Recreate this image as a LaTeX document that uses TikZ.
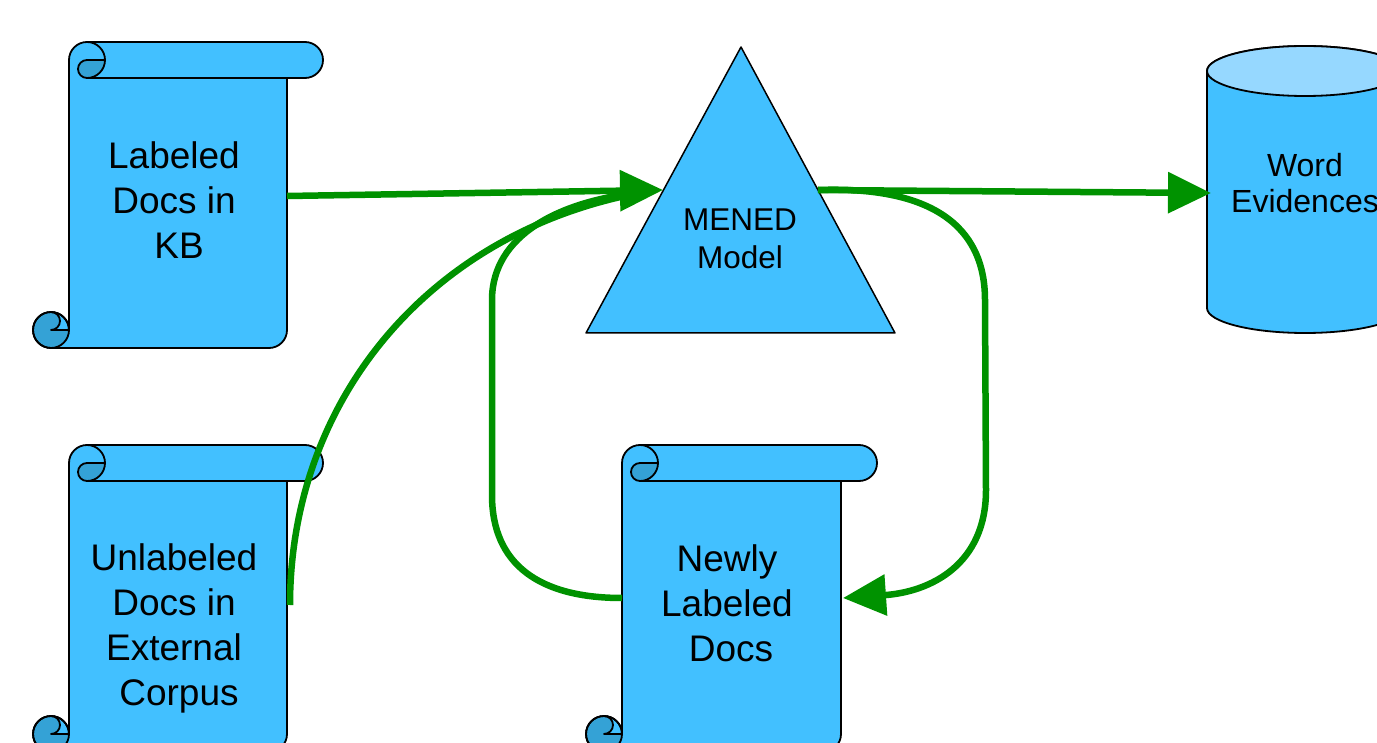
\documentclass[tikz,border=0pt]{standalone}
\usepackage{fontspec}
\setmainfont{Liberation Sans}
\usetikzlibrary{arrows.meta}

\definecolor{docblue}{RGB}{66,192,255}
\definecolor{curlblue}{RGB}{52,162,214}
\definecolor{cyltop}{RGB}{150,216,255}
\definecolor{flowgreen}{RGB}{0,146,0}

\tikzset{
  outline/.style={draw=black, line width=1.8pt, line join=round},
  flow/.style={draw=flowgreen, line width=6.5pt},
  flowhead/.style={-{Triangle[length=43pt,width=40pt]}, flowgreen},
  bigtext/.style={align=center, font=\fontsize{37}{45}\selectfont},
  smalltext/.style={align=center, font=\fontsize{31.5}{38}\selectfont},
  storetext/.style={align=center, font=\fontsize{32}{36}\selectfont},
}

% A rolled document: #1 left and #3 right edge of the sheet, #2 top, #4 bottom
\newcommand\docscroll[4]{%
  % sheet with its top roll and bottom curl
  \fill[docblue] (#1,{#2+18}) arc[start angle=180,end angle=270,radius=18]
    -- ({#3+18},#2) arc[start angle=270,end angle=450,radius=18]
    -- (#3,{#2+36}) -- (#3,{#4-18}) arc[start angle=0,end angle=90,radius=18]
    -- ({#1-18},#4) arc[start angle=90,end angle=360,radius=18] -- cycle;
  % shaded inside of the top roll
  \fill[curlblue] ({#1+18},{#2+18}) -- ({#1+36},{#2+18})
    arc[start angle=0,end angle=90,radius=18]
    arc[start angle=90,end angle=270,radius=9] -- cycle;
  % shaded bottom curl
  \fill[curlblue] ({#1-18},{#4-18}) -- (#1,{#4-18})
    arc[start angle=0,end angle=270,radius=18]
    arc[start angle=270,end angle=450,radius=9] -- cycle;
  % contour
  \draw[outline] (#1,{#2+18}) arc[start angle=180,end angle=270,radius=18]
    -- ({#3+18},#2) arc[start angle=270,end angle=450,radius=18]
    -- (#3,{#2+36}) -- (#3,{#4-18}) arc[start angle=0,end angle=90,radius=18]
    -- ({#1-18},#4) arc[start angle=90,end angle=360,radius=18] -- cycle;
  % roll details
  \draw[outline] ({#1+18},#2) arc[start angle=270,end angle=450,radius=18]
    arc[start angle=90,end angle=270,radius=9] -- ({#1+36},{#2+18});
  \draw[outline] ({#1+18},{#2+36}) -- (#3,{#2+36});
  \draw[outline] ({#1-18},{#4-18}) circle[radius=18];
  \draw[outline] ({#1-18},{#4-36}) arc[start angle=270,end angle=450,radius=9]
    -- (#1,{#4-18});
}

\begin{document}
\begin{tikzpicture}[x=1pt,y=-1pt]
\useasboundingbox (0,0) rectangle (1377,743);
\clip (0,0) rectangle (1377,743);

% documents
\docscroll{69}{42}{287}{348}
\docscroll{69}{445}{287}{752}
\docscroll{622}{445}{841}{752}

% model
\filldraw[fill=docblue, draw=black, line width=1.5pt, line join=round]
  (741,47) -- (895,333) -- (586,333) -- cycle;

% evidence store
\filldraw[fill=docblue, draw=black, line width=1.8pt]
  (1207,71) -- (1207,308) arc[start angle=180,end angle=0,x radius=98,y radius=25]
  -- (1403,71) arc[start angle=0,end angle=-180,x radius=98,y radius=25] -- cycle;
\filldraw[fill=cyltop, draw=black, line width=1.8pt]
  (1305,71) ellipse[x radius=98,y radius=25];

% labels
\node[bigtext] (kb) at (174,200) {Labeled\\Docs in\\\hspace{10pt}KB};
\node[bigtext] (ext) at (174,628) {Unlabeled\\Docs in\\External\\\hspace{10pt}Corpus};
\node[bigtext] (new) at (727,603) {Newly\\Labeled\\\hspace{8pt}Docs};
\node[smalltext] (model) at (740,239) {MENED\\Model};
\node[storetext] (words) at (1305,183) {Word\\Evidences};

% attachment points
\coordinate (kbR) at (287,196);
\coordinate (extR) at (290,605);
\coordinate (newL) at (622,598);
\coordinate (newR) at (843,598);
\coordinate (modelIn) at (663,190);
\coordinate (modelJoin) at (645,192);
\coordinate (modelOut) at (818,190);
\coordinate (wordsL) at (1211,193);

% flows
\draw[flow] (extR) .. controls (290,400) and (430,230) .. (modelJoin);
\draw[flow, line join=round] (newL) .. controls (540,598) and (492,565) .. (492,495)
  -- (492,300) .. controls (492,235) and (560,200) .. (modelJoin);
\draw[flow, flowhead] (kbR) -- (modelIn);
\draw[flow, flowhead] (modelOut) -- (wordsL);
\draw[flow, flowhead, line join=round] (modelOut) .. controls (930,186) and (985,225) .. (985,300)
  -- (986,490) .. controls (986,565) and (930,592) .. (newR);
\end{tikzpicture}
\end{document}
